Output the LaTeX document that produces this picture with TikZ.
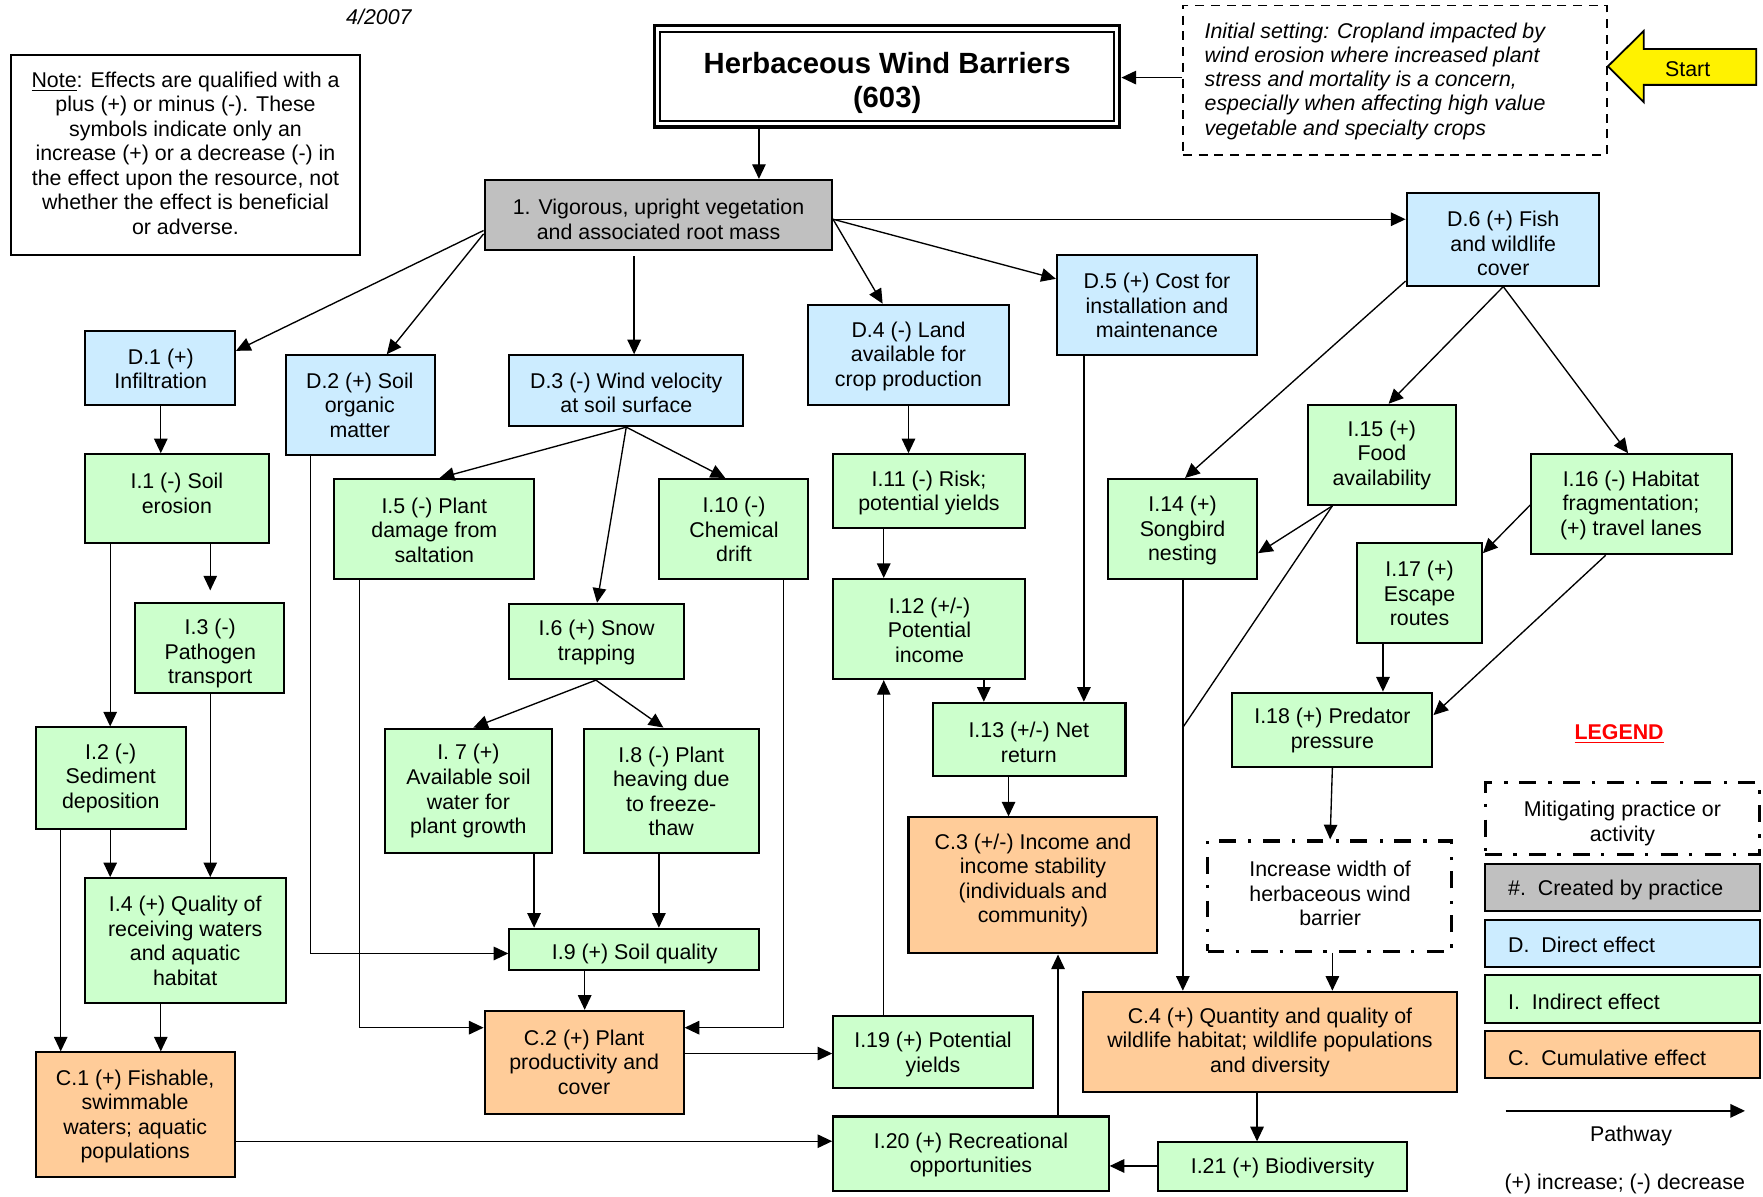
\documentclass[tikz,border=0pt]{standalone}
\usepackage{fontspec}
\setmainfont{Liberation Sans}
\usetikzlibrary{arrows.meta,fit,calc}
\definecolor{dblue}{HTML}{CCECFF}
\definecolor{igreen}{HTML}{CCFFCC}
\definecolor{corange}{HTML}{FFCC99}
\definecolor{pgray}{HTML}{C0C0C0}
\definecolor{lred}{HTML}{FF0000}
\begin{document}
\begin{tikzpicture}[x=0.5pt,y=-0.5pt]
\tikzset{
  bx/.style={draw, line width=0.9pt, inner sep=0pt},
  dbox/.style={bx, fill=dblue},
  ibox/.style={bx, fill=igreen},
  cbox/.style={bx, fill=corange},
  gbox/.style={bx, fill=pgray},
  mitig/.style={draw, line width=1.5pt, dash pattern=on 7.5pt off 5pt on 1.5pt off 5.5pt, inner sep=0pt, fill=white},
  txt/.style={align=center, inner sep=0pt, yshift=-1.1pt, font=\fontsize{9.5}{10.9}\selectfont},
  arr/.style={line width=0.6pt, -{Triangle[length=6.5pt,width=6pt]}},
  ln/.style={line width=0.6pt},
}
\useasboundingbox (0,0) rectangle (1568,1064);

% ---------- header ----------
\node[txt, font=\fontsize{9.5}{10.9}\selectfont\itshape] (date) at (337,13) {4/2007};
\node[draw, line width=1.4pt, inner sep=0pt, fit={(582,23) (996,113)}] (title) {};
\draw[line width=0.9pt] ($(title.north west)+(6.5,6.5)$) rectangle ($(title.south east)+(-6.5,-6.5)$);
\node[align=center, inner sep=0pt, font=\fontsize{13}{15}\selectfont\bfseries] (titlet) at (789,74) {Herbaceous Wind Barriers\\(603)};

\node[draw, line width=0.9pt, inner sep=0pt, fit={(10,49) (320,227)}] (note) {};
\node[txt] (notet) at (165,134) {\underline{Note}: Effects are qualified with a\\plus (+) or minus (-). These\\symbols indicate only an\\increase (+) or a decrease (-) in\\the effect upon the resource, not\\whether the effect is beneficial\\or adverse.};

\node[draw, line width=0.75pt, dash pattern=on 4pt off 3pt, inner sep=0pt, fit={(1052,5) (1429,138)}] (init) {};
\node[txt, align=left, anchor=west, font=\fontsize{9.5}{10.8}\selectfont\itshape] (initt) at (1071,70) {Initial setting: Cropland impacted by\\wind erosion where increased plant\\stress and mortality is a concern,\\especially when affecting high value\\vegetable and specialty crops};

\draw[line width=0.8pt, fill=yellow] (1430,59) -- (1462,27.5) -- (1462,43.5) -- (1562,43.5) -- (1562,75.5) -- (1462,75.5) -- (1462,91) -- cycle;
\node[txt] (start) at (1501,59) {Start};

% ---------- boxes ----------
\node[gbox, fit={(431,160) (740,222)}] (vig) {};
\node[dbox, fit={(76,294) (209,360)}] (d1) {};
\node[dbox, fit={(254,316) (387,405)}] (d2) {};
\node[dbox, fit={(453,316) (661,379)}] (d3) {};
\node[dbox, fit={(719,271) (897,360)}] (d4) {};
\node[dbox, fit={(940,227) (1118,316)}] (d5) {};
\node[dbox, fit={(1251,172) (1422,254)}] (d6) {};
\node[ibox, fit={(76,404) (239,483)}] (i1) {};
\node[ibox, fit={(32,647) (165,737)}] (i2) {};
\node[ibox, fit={(120,536) (253,616)}] (i3) {};
\node[ibox, fit={(76,781) (254,892)}] (i4) {};
\node[cbox, fit={(32,936) (209,1047)}] (c1) {};
\node[ibox, fit={(297,426) (475,515)}] (i5) {};
\node[ibox, fit={(453,537) (608,604)}] (i6) {};
\node[ibox, fit={(342,648) (491,759)}] (i7) {};
\node[ibox, fit={(519,648) (675,759)}] (i8) {};
\node[ibox, fit={(453,826) (675,863)}] (i9) {};
\node[ibox, fit={(586,426) (719,515)}] (i10) {};
\node[cbox, fit={(431,899) (608,991)}] (c2) {};
\node[ibox, fit={(741,404) (912,470)}] (i11) {};
\node[ibox, fit={(741,515) (912,604)}] (i12) {};
\node[ibox, fit={(830,625) (1001,690)}] (i13) {};
\node[cbox, fit={(808,727) (1029,848)}] (c3) {};
\node[ibox, fit={(741,904) (919,968)}] (i19) {};
\node[ibox, fit={(741,993) (986,1059)}] (i20) {};
\node[ibox, fit={(1030,1016) (1251,1059)}] (i21) {};
\node[cbox, fit={(963,882) (1296,971)}] (c4) {};
\node[ibox, fit={(985,426) (1118,515)}] (i14) {};
\node[ibox, fit={(1163,360) (1295,449)}] (i15) {};
\node[ibox, fit={(1362,404) (1540,493)}] (i16) {};
\node[ibox, fit={(1207,483) (1318,572)}] (i17) {};
\node[ibox, fit={(1096,616) (1274,682)}] (i18) {};
\node[mitig, fit={(1074,748) (1291,846)}] (mit) {};

% ---------- texts ----------
\node[txt] (vigt) at (585.7,193) {1. Vigorous, upright vegetation\\and associated root mass};
\node[txt] (d1t) at (143,326) {D.1 (+)\\Infiltration};
\node[txt] (d2t) at (320,358) {D.2 (+) Soil\\organic\\matter};
\node[txt] (d3t) at (557,347.3) {D.3 (-) Wind velocity\\at soil surface};
\node[txt] (d4t) at (808,314.5) {D.4 (-) Land\\available for\\crop production};
\node[txt] (d5t) at (1029,269.7) {D.5 (+) Cost for\\installation and\\maintenance};
\node[txt] (d6t) at (1337,214.5) {D.6 (+) Fish\\and wildlife\\cover};
\node[txt] (i1t) at (157.3,436.5) {I.1 (-) Soil\\erosion};
\node[txt] (i2t) at (98.5,690) {I.2 (-)\\Sediment\\deposition};
\node[txt] (i3t) at (187,579) {I.3 (-)\\Pathogen\\transport};
\node[txt] (i4t) at (164.7,834.5) {I.4 (+) Quality of\\receiving waters\\and aquatic\\habitat};
\node[txt] (c1t) at (120.2,990.6) {C.1 (+) Fishable,\\swimmable\\waters; aquatic\\populations};
\node[txt] (i5t) at (386.3,469.2) {I.5 (-) Plant\\damage from\\saltation};
\node[txt] (i6t) at (530.6,569.2) {I.6 (+) Snow\\trapping};
\node[txt] (i7t) at (416.6,701.5) {I. 7 (+)\\Available soil\\water for\\plant growth};
\node[txt] (i8t) at (597,701.7) {I.8 (-) Plant\\heaving due\\to freeze-\\thaw};
\node[txt] (i9t) at (564.5,846) {I.9 (+) Soil quality};
\node[txt] (i10t) at (652.8,468.8) {I.10 (-)\\Chemical\\drift};
\node[txt] (c2t) at (519.5,942.4) {C.2 (+) Plant\\productivity and\\cover};
\node[txt] (i11t) at (826.2,436.2) {I.11 (-) Risk;\\potential yields};
\node[txt] (i12t) at (826.7,558.2) {I.12 (+/-)\\Potential\\income};
\node[txt] (i13t) at (915,657.9) {I.13 (+/-) Net\\return};
\node[txt] (c3t) at (918.7,781) {C.3 (+/-) Income and\\income stability\\(individuals and\\community)};
\node[txt] (i19t) at (829.8,935.7) {I.19 (+) Potential\\yields};
\node[txt] (i20t) at (863.6,1024.8) {I.20 (+) Recreational\\opportunities};
\node[txt] (i21t) at (1140.7,1036.5) {I.21 (+) Biodiversity};
\node[txt] (c4t) at (1129.5,924.9) {C.4 (+) Quantity and quality of\\wildlife habitat; wildlife populations\\and diversity};
\node[txt] (i14t) at (1051.7,469.9) {I.14 (+)\\Songbird\\nesting};
\node[txt] (i15t) at (1229,402.8) {I.15 (+)\\Food\\availability};
\node[txt] (i16t) at (1450.6,447) {I.16 (-) Habitat\\fragmentation;\\(+) travel lanes};
\node[txt] (i17t) at (1262.5,525.6) {I.17 (+)\\Escape\\routes};
\node[txt] (i18t) at (1185,647.5) {I.18 (+) Predator\\pressure};
\node[txt] (mitt) at (1183,792.5) {Increase width of\\herbaceous wind\\barrier};

% ---------- connectors ----------
\draw[arr] (init.west |- 0,69) -- (title.east |- 0,69);
\draw[arr] (title.south -| 675,0) -- (vig.north -| 675,0);
\draw[arr] (vig.west |- 0,205) -- (d1.east |- 0,312);
\draw[arr] (vig.west |- 0,208) -- (d2.north -| 344,0);
\draw[arr, shorten <=2.5pt] (vig.south -| 564,0) -- (d3.north -| 564,0);
\draw[arr] (vig.east |- 0,195) -- (d4.north -| 785,0);
\draw[arr] (vig.east |- 0,195) -- (d5.west |- 0,248);
\draw[arr] (vig.east |- 0,195) -- (d6.west |- 0,195);

\draw[arr] (d1.south -| 143,0) -- (i1.north -| 143,0);
\draw[arr] (i1.south -| 98,0) -- (i2.north -| 98,0);
\draw[arr, shorten >=5pt] (i1.south -| 187,0) -- (i3.north -| 187,0);
\draw[arr] (i2.south -| 98,0) -- (i4.north -| 98,0);
\draw[arr] (i3.south -| 187,0) -- (i4.north -| 187,0);
\draw[arr] (i2.south -| 54,0) -- (c1.north -| 54,0);
\draw[arr] (i4.south -| 143,0) -- (c1.north -| 143,0);
\draw[arr] (c1.east |- 0,1015) -- (i20.west |- 0,1015);

\draw[arr] (d2.south -| 276,0) |- (i9.west |- 0,848);
\draw[arr] (d3.south -| 557,0) -- (i5.north -| 391,0);
\draw[arr] (d3.south -| 557,0) -- (i6.north -| 531,0);
\draw[arr] (d3.south -| 557,0) -- (i10.north -| 645,0);
\draw[arr] (i5.south -| 320,0) |- (c2.west |- 0,914);
\draw[arr] (i10.south -| 697,0) |- (c2.east |- 0,914);
\draw[arr] (i6.south -| 530,0) -- (i7.north -| 421,0);
\draw[arr] (i6.south -| 530,0) -- (i8.north -| 590,0);
\draw[arr] (i7.south -| 475,0) -- (i9.north -| 475,0);
\draw[arr] (i8.south -| 586,0) -- (i9.north -| 586,0);
\draw[arr] (i9.south -| 520,0) -- (c2.north -| 520,0);
\draw[arr] (c2.east |- 0,937) -- (i19.west |- 0,937);
\draw[arr] (i19.north -| 786,0) -- (i12.south -| 786,0);

\draw[arr] (d4.south -| 808,0) -- (i11.north -| 808,0);
\draw[arr] (i11.south -| 786,0) -- (i12.north -| 786,0);
\draw[arr] (i12.south -| 875,0) -- (i13.north -| 875,0);
\draw[arr] (d5.south -| 964,0) -- (i13.north -| 964,0);
\draw[arr] (i13.south -| 897,0) -- (c3.north -| 897,0);
\draw[arr] (i20.north -| 941,0) -- (c3.south -| 941,0);
\draw[arr] (i21.west |- 0,1037) -- (i20.east |- 0,1037);

\draw[arr] (d6.west |- 0,250) -- (i14.north -| 1054,0);
\draw[arr] (d6.south -| 1337,0) -- (i15.north -| 1235,0);
\draw[arr] (d6.south -| 1337,0) -- (i16.north -| 1448,0);
\draw[arr] (i15.south -| 1185,0) -- (i14.east |- 0,492);
\coordinate (j15) at (1052,647);
\draw[ln] (i15.south -| 1185,0) -- (j15);
\draw[arr] (i14.south -| 1052,0) -- (c4.north -| 1052,0);
\draw[arr] (i16.west |- 0,449) -- (i17.east |- 0,492);
\draw[arr] (i16.south -| 1428,0) -- (i18.east |- 0,636);
\draw[arr] (i17.south -| 1230,0) -- (i18.north -| 1230,0);
\draw[arr] (i18.south -| 1185,0) -- (mit.north -| 1183,0);
\draw[arr] (mit.south -| 1185,0) -- (c4.north -| 1185,0);
\draw[arr] (c4.south -| 1118,0) -- (i21.north -| 1118,0);

% ---------- legend ----------
\node[txt, font=\fontsize{9.5}{10.9}\selectfont\bfseries, text=lred] (legend) at (1440,651) {\underline{LEGEND}};
\node[mitig, fit={(1321,696) (1565,760)}] (lmit) {};
\node[txt] (lmitt) at (1443,730) {Mitigating practice or\\activity};
\node[gbox, fit={(1321,768) (1565,810)}] (lcre) {};
\node[txt, anchor=west] (lcret) at (1341,789) {\#.\ \ Created by practice};
\node[dbox, fit={(1321,818) (1565,860)}] (ldir) {};
\node[txt, anchor=west] (ldirt) at (1341,838.5) {D.\ \ Direct effect};
\node[ibox, fit={(1321,867) (1565,910)}] (lind) {};
\node[txt, anchor=west] (lindt) at (1341,888.5) {I.\ \ Indirect effect};
\node[cbox, fit={(1321,917) (1565,959)}] (lcum) {};
\node[txt, anchor=west] (lcumt) at (1341,938.3) {C.\ \ Cumulative effect};
\coordinate (lpa) at (1339,988);
\coordinate (lpb) at (1552,988);
\draw[arr] (lpa) -- (lpb);
\node[txt] (lpath) at (1450.6,1008.5) {Pathway};
\node[txt] (lsign) at (1445,1051) {(+) increase; (-) decrease};
\end{tikzpicture}
\end{document}
